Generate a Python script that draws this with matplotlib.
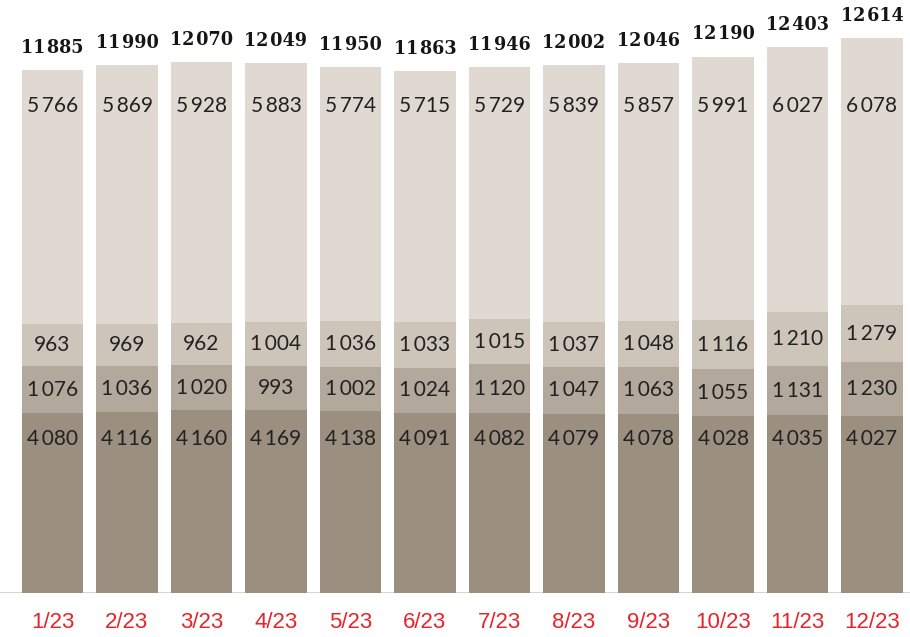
import matplotlib.pyplot as plt
import numpy as np

months = ['1/23', '2/23', '3/23', '4/23', '5/23', '6/23',
          '7/23', '8/23', '9/23', '10/23', '11/23', '12/23']
seg_bottom = [4080, 4116, 4160, 4169, 4138, 4091, 4082, 4079, 4078, 4028, 4035, 4027]
seg_second = [1076, 1036, 1020, 993, 1002, 1024, 1120, 1047, 1063, 1055, 1131, 1230]
seg_third = [963, 969, 962, 1004, 1036, 1033, 1015, 1037, 1048, 1116, 1210, 1279]
seg_top = [5766, 5869, 5928, 5883, 5774, 5715, 5729, 5839, 5857, 5991, 6027, 6078]

colors = ['#9b8f80', '#b2a89b', '#cdc5ba', '#e0d9d2']


def fmt(v, sep='\u2009'):
    # thousands separated by a thin space
    return f'{v:,}'.replace(',', sep)


fig = plt.figure(figsize=(9.1, 6.37), dpi=100)
ax = fig.add_axes([0, 44 / 637, 1, 593 / 637])

x = np.arange(len(months))
segments = [seg_bottom, seg_second, seg_third, seg_top]
bottom = np.zeros(len(months))
bars = []
for vals, col in zip(segments, colors):
    ax.bar(x, vals, width=0.82, bottom=bottom, color=col, zorder=2)
    bars.append((np.array(vals), bottom.copy()))
    bottom = bottom + np.array(vals)
totals = bottom

pitch = 74.5
ax.set_xlim(-52.5 / pitch, (910 - 52.5) / pitch)
ax.set_ylim(0, 13476)
ax.axhline(0, color='#d0d0d0', linewidth=2, zorder=1)

lab_font = dict(family=['Lato', 'DejaVu Sans'], fontsize=15, color='#222222',
                ha='center', va='center', zorder=3)

for i in range(len(months)):
    # bottom and top segment labels sit at a fixed height
    ax.text(x[i], 3500, fmt(seg_bottom[i]), **lab_font)
    ax.text(x[i], 11070, fmt(seg_top[i]), **lab_font)
    for vals, base in bars[1:3]:
        ax.text(x[i], base[i] + vals[i] / 2, fmt(vals[i]), **lab_font)
    ax.annotate(fmt(int(totals[i]), '\u200a'), (x[i], totals[i]), xytext=(0, 9.5),
                textcoords='offset points', ha='center', va='bottom',
                family=['DejaVu Serif'], fontstretch='condensed',
                fontweight='bold', fontsize=14, color='#151515')

ax.set_xticks(x)
ax.set_xticklabels(months, family=['Liberation Sans', 'DejaVu Sans'],
                   fontsize=16, color='#e8232a')
ax.tick_params(axis='x', length=0, pad=14)
ax.set_yticks([])
for s in ax.spines.values():
    s.set_visible(False)

fig.savefig('out.png', dpi=100)
